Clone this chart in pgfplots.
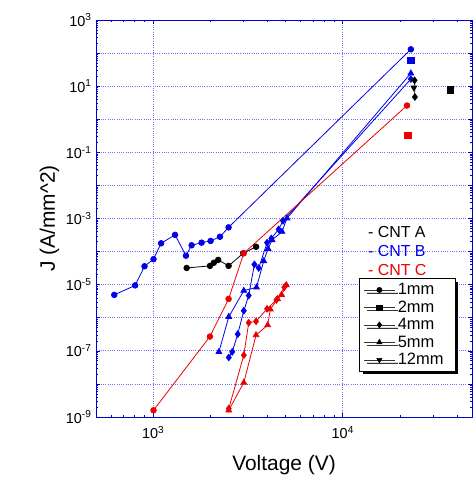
\documentclass[border=0pt]{standalone}
\usepackage{fontspec}
\setmainfont{Liberation Sans}
\usepackage{pgfplots}
\pgfplotsset{compat=1.18}
\usetikzlibrary{shadows}
\definecolor{axblue}{RGB}{0,0,205}
\definecolor{gridblue}{RGB}{110,110,255}
\definecolor{sblue}{RGB}{0,0,235}
\definecolor{sred}{RGB}{235,0,0}
\begin{document}
\begin{tikzpicture}
\path[use as bounding box] (-96bp,-60bp) rectangle (377bp,417bp);
\begin{axis}[
  at={(0,0)}, anchor=south west,
  scale only axis, width=376bp, height=397bp,
  xmode=log, ymode=log,
  xmin=500, xmax=48000, ymin=1e-9, ymax=1e3,
  xtick={1000,10000},
  xticklabels={10\textsuperscript{3},10\textsuperscript{4}},
  minor xtick={600,700,800,900,2000,3000,4000,5000,6000,7000,8000,9000,20000,30000,40000},
  ytick={1e-9,1e-8,1e-7,1e-6,1e-5,1e-4,1e-3,1e-2,1e-1,1,10,100,1000},
  yticklabels={10\textsuperscript{-9},,10\textsuperscript{-7},,10\textsuperscript{-5},,10\textsuperscript{-3},,10\textsuperscript{-1},,10\textsuperscript{1},,10\textsuperscript{3}},
  tick label style={font=\fontsize{14.5}{16}\selectfont},
  xticklabel style={yshift=-6bp},
  yticklabel style={xshift=-1bp},
  axis line style={axblue, line width=0.9bp},
  every tick/.style={axblue, line width=0.6bp},
  tick align=inside,
  major tick length=4bp, minor tick length=2.5bp,
  grid=major,
  major grid style={gridblue, line width=0.7bp, dash pattern=on 1bp off 1.5bp on 0.5bp off 1.5bp},
  xlabel={Voltage (V)},
  ylabel={J (A/mm\textasciicircum 2)},
  label style={font=\fontsize{21}{24}\selectfont},
  xlabel style={yshift=-10bp},
  legend cell align=left,
  legend style={at={(0.700,0.349)}, anchor=north west, draw=black, fill=white,
    line width=0.6bp,
    font=\fontsize{16.5}{18}\selectfont,
    drop shadow={shadow xshift=3bp, shadow yshift=-3bp, fill=black, opacity=1},
    inner xsep=4bp, inner ysep=2.5bp, row sep=0bp,
    nodes={inner ysep=2.3bp, inner xsep=2.5bp}},
  legend image code/.code={\draw[mark repeat=2,mark phase=2,#1] plot coordinates {(0cm,0cm) (0.55cm,0cm) (1.1cm,0cm)};},
  every axis plot/.append style={line width=0.8bp},
]
% legend images
\addlegendimage{black!80, line width=0.6bp, mark=*, mark size=2.6bp, mark options={black}}
\addlegendentry{1mm}
\addlegendimage{black!80, line width=0.6bp, mark=square*, mark size=2.6bp, mark options={black}}
\addlegendentry{2mm}
\addlegendimage{black!80, line width=0.6bp, mark=diamond*, mark size=3bp, mark options={black}}
\addlegendentry{4mm}
\addlegendimage{black!80, line width=0.6bp, mark=triangle*, mark size=3bp, mark options={black}}
\addlegendentry{5mm}
\addlegendimage{black!80, line width=0.6bp, mark=triangle*, mark size=3bp, mark options={black, rotate=180}}
\addlegendentry{12mm\hspace*{5bp}}

% CNT B (blue)
\addplot[sblue, mark=*, mark size=2.8bp, forget plot] coordinates {
(624,4.9e-6)(804,9.5e-6)(901,3.6e-5)(1005,5.9e-5)(1102,1.78e-4)(1305,3.2e-4)
(1490,7.5e-5)(1596,1.55e-4)(1802,1.86e-4)(2010,2.1e-4)(2250,2.8e-4)(2500,5.4e-4)(22850,130)};
\addplot[sblue, mark=triangle*, mark size=3.3bp, forget plot] coordinates {
(2223,9.3e-8)(2506,1.07e-6)(3007,6.6e-6)(3508,8.3e-6)(3830,5.2e-5)(4036,1.22e-4)
(4237,2.24e-4)(4782,4.0e-4)(5080,1.02e-3)(22850,24.5)};
\addplot[sblue, mark=diamond*, mark size=3.3bp, forget plot] coordinates {
(2506,6.3e-8)(2612,9.3e-8)(2794,3.2e-7)(3007,1.63e-6)(3192,4.7e-6)(3420,4.1e-5)
(3604,3.2e-5)(3990,1.86e-4)(4200,2.5e-4)(4590,4.7e-4)(4840,8.5e-4)(22850,16.4)};
\addplot[sblue, only marks, mark=square*, mark size=3.2bp, forget plot] coordinates {(22850,60.5)};

% CNT A (black)
\addplot[black, mark=*, mark size=2.8bp, forget plot] coordinates {
(1503,3.2e-5)(1995,3.7e-5)(2090,4.6e-5)(2203,5.6e-5)(2500,3.7e-5)(2987,8.9e-5)(3490,1.4e-4)};
\addplot[black, mark=diamond*, mark size=3.3bp, forget plot] coordinates {(23900,15)(24000,4.7)};
\addplot[black, only marks, mark=triangle*, mark size=3.3bp, mark options={rotate=180}, forget plot] coordinates {(23700,9)};
\addplot[black, only marks, mark=square*, mark size=3.2bp, forget plot] coordinates {(36900,7.7)};

% CNT C (red)
\addplot[sred, mark=*, mark size=2.8bp, forget plot] coordinates {
(1005,1.6e-9)(1993,2.7e-7)(2500,3.7e-6)(3006,8.9e-5)(21800,2.6)};
\addplot[sred, mark=diamond*, mark size=3.3bp, forget plot] coordinates {
(2506,1.8e-9)(3007,7.4e-8)(3192,7.1e-7)(3490,7.8e-7)(3990,1.86e-6)(4467,3.45e-6)(4921,8.4e-6)};
\addplot[sred, mark=triangle*, mark size=3.3bp, forget plot] coordinates {
(2506,1.6e-9)(3007,1.1e-8)(3490,3.0e-7)(4018,6.0e-7)(4149,1.8e-6)(4529,3.7e-6)(4761,4.9e-6)(5035,9.8e-6)};
\addplot[sred, only marks, mark=square*, mark size=3.2bp, forget plot] coordinates {(22000,0.32)};

\node[anchor=west, font=\fontsize{16}{18}\selectfont, text=black, inner sep=0pt] at (rel axis cs:0.723,0.466) {- CNT A};
\node[anchor=west, font=\fontsize{16}{18}\selectfont, text=sblue, inner sep=0pt] at (rel axis cs:0.723,0.418) {- CNT B};
\node[anchor=west, font=\fontsize{16}{18}\selectfont, text=sred, inner sep=0pt] at (rel axis cs:0.723,0.370) {- CNT C};
\end{axis}
\end{tikzpicture}
\end{document}
